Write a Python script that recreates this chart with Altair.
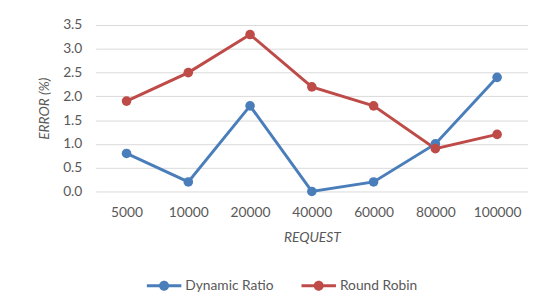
import altair as alt
import pandas as pd

requests = ["5000", "10000", "20000", "40000", "60000", "80000", "100000"]
dynamic_ratio = [0.8, 0.2, 1.8, 0.0, 0.2, 1.0, 2.4]
round_robin = [1.9, 2.5, 3.3, 2.2, 1.8, 0.9, 1.2]
series_names = ["Dynamic Ratio", "Round Robin"]
colors = ["#4A7EBB", "#BE4B48"]
y_ticks = [0.0, 0.5, 1.0, 1.5, 2.0, 2.5, 3.0, 3.5]

rows = []
for r, d, rr in zip(requests, dynamic_ratio, round_robin):
    rows.append({"request": r, "series": series_names[0], "error": d})
    rows.append({"request": r, "series": series_names[1], "error": rr})
df = pd.DataFrame(rows)

FONT = "Lato"
GRAY = "#595959"

sym = ("M-1,-0.09 H1 V0.09 H-1 Z "
       "M-0.29,0 A0.29,0.29 0 1,1 0.29,0 A0.29,0.29 0 1,1 -0.29,0 Z")

x = alt.X("request:N", sort=requests,
          scale=alt.Scale(type="point", padding=0.5),
          axis=alt.Axis(title="REQUEST", labelAngle=0, ticks=False, domain=False,
                        grid=False, labelPadding=14, titlePadding=12))
y = alt.Y("error:Q", scale=alt.Scale(domain=[0, 3.5], nice=False),
          axis=alt.Axis(title="ERROR (%)", values=y_ticks, format=".1f",
                        ticks=False, domain=False, labelPadding=14,
                        titlePadding=11, gridColor="#D9D9D9", gridWidth=1))
color = alt.Color("series:N", sort=series_names,
                  scale=alt.Scale(domain=series_names, range=colors),
                  legend=alt.Legend(title=None, orient="none", legendX=52, legendY=247,
                                    direction="horizontal", symbolType=sym,
                                    symbolSize=1225, symbolStrokeWidth=0,
                                    labelOffset=4, columnPadding=28))

line = alt.Chart(df).mark_line(strokeWidth=3).encode(x=x, y=y, color=color)
pts = alt.Chart(df).mark_circle(size=95, opacity=1).encode(x=x, y=y, color=color)

chart = (line + pts).properties(
    width=439, height=169,
    autosize=alt.AutoSizeParams(type="none"),
    padding={"left": 89, "top": 15, "right": 0, "bottom": 114},
).configure_view(stroke=None).configure_axis(
    labelFont=FONT, titleFont=FONT, labelFontSize=14, titleFontSize=14,
    labelColor=GRAY, titleColor=GRAY, titleFontWeight="normal",
    titleFontStyle="italic",
).configure_legend(labelFont=FONT, labelFontSize=14, labelColor=GRAY)

chart.save("out.html", embed_options={"renderer": "svg", "actions": False})
